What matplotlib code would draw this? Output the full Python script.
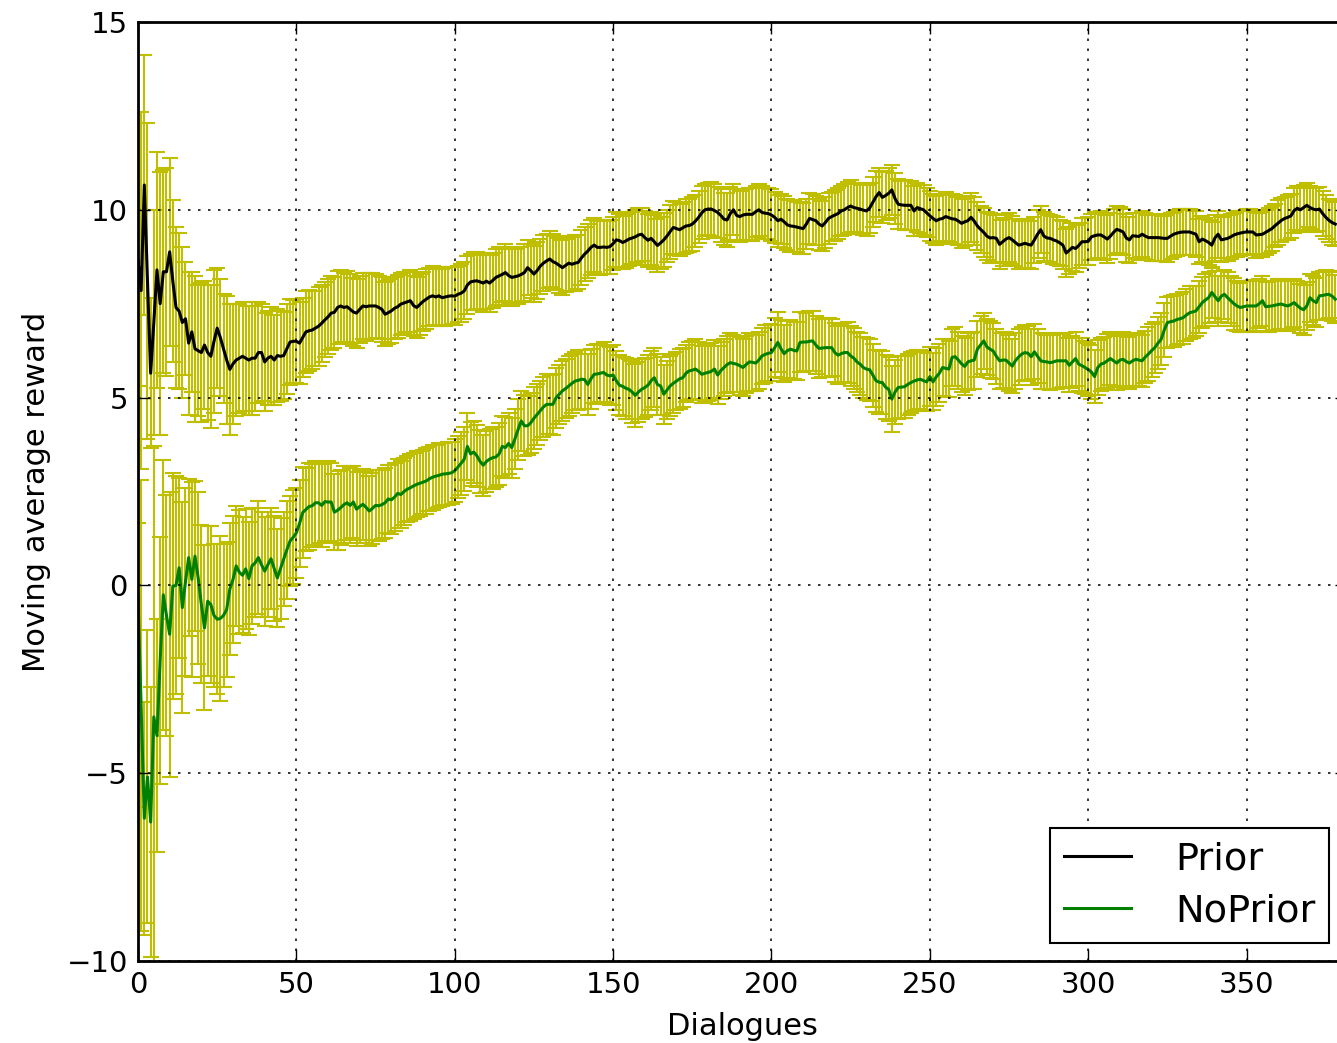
import numpy as np
import matplotlib
matplotlib.use('Agg')
from matplotlib import pyplot as plt

# moving average reward per dialogue
prior = [
    8.66, 7.85, 10.66, 8.1, 5.65, 7.0, 8.4, 7.5, 8.35, 8.35,
    8.88, 8.1, 7.4, 7.3, 7.0, 7.1, 6.45, 6.75, 6.3, 6.25,
    6.2, 6.4, 6.2, 6.1, 6.5, 6.85, 6.6, 6.3, 6.0, 5.75,
    5.9, 6.0, 6.05, 6.1, 6.05, 6.0, 6.05, 6.05, 6.2, 6.2,
    5.95, 6.05, 6.1, 6.0, 6.12, 6.1, 6.12, 6.3, 6.48, 6.5,
    6.5, 6.45, 6.6, 6.75, 6.78, 6.8, 6.85, 6.9, 6.98, 7.07,
    7.15, 7.25, 7.27, 7.4, 7.44, 7.4, 7.42, 7.35, 7.28, 7.25,
    7.35, 7.44, 7.42, 7.44, 7.44, 7.44, 7.4, 7.35, 7.22, 7.26,
    7.31, 7.38, 7.42, 7.49, 7.52, 7.55, 7.58, 7.45, 7.4, 7.48,
    7.56, 7.62, 7.68, 7.71, 7.68, 7.71, 7.66, 7.68, 7.7, 7.71,
    7.7, 7.75, 7.78, 7.84, 8.0, 8.08, 8.1, 8.11, 8.08, 8.05,
    8.1, 8.05, 8.12, 8.2, 8.24, 8.28, 8.33, 8.25, 8.2, 8.22,
    8.24, 8.28, 8.33, 8.46, 8.38, 8.29, 8.38, 8.5, 8.58, 8.64,
    8.69, 8.62, 8.58, 8.52, 8.46, 8.52, 8.58, 8.55, 8.58, 8.6,
    8.72, 8.82, 8.9, 9.0, 9.06, 9.0, 9.0, 9.01, 9.0, 9.02,
    9.1, 9.2, 9.18, 9.13, 9.17, 9.22, 9.25, 9.28, 9.33, 9.35,
    9.26, 9.19, 9.24, 9.15, 9.05, 9.12, 9.2, 9.3, 9.42, 9.53,
    9.5, 9.47, 9.52, 9.57, 9.58, 9.62, 9.7, 9.8, 9.92, 10.0,
    10.02, 10.02, 9.98, 9.93, 9.85, 9.75, 9.73, 9.9, 10.0, 9.85,
    9.82, 9.86, 9.88, 9.88, 9.88, 9.95, 10.0, 9.93, 9.91, 9.9,
    9.86, 9.8, 9.71, 9.75, 9.68, 9.6, 9.57, 9.56, 9.54, 9.52,
    9.5, 9.62, 9.77, 9.74, 9.71, 9.62, 9.57, 9.66, 9.77, 9.82,
    9.86, 9.9, 9.97, 10.0, 10.06, 10.1, 10.06, 10.04, 10.02, 9.99,
    9.97, 10.05, 10.2, 10.35, 10.46, 10.33, 10.38, 10.44, 10.53, 10.3,
    10.15, 10.13, 10.12, 10.12, 10.12, 9.97, 10.06, 10.03, 10.0, 9.92,
    9.84, 9.77, 9.71, 9.75, 9.77, 9.82, 9.79, 9.76, 9.75, 9.7,
    9.64, 9.68, 9.71, 9.8, 9.7, 9.57, 9.48, 9.4, 9.3, 9.25,
    9.26, 9.24, 9.08, 9.15, 9.22, 9.26, 9.2, 9.13, 9.06, 9.08,
    9.11, 9.08, 9.06, 9.2, 9.35, 9.47, 9.3, 9.25, 9.24, 9.2,
    9.17, 9.12, 9.06, 8.85, 8.92, 9.0, 8.97, 9.05, 9.15, 9.15,
    9.16, 9.28, 9.31, 9.33, 9.33, 9.28, 9.22, 9.3, 9.4, 9.48,
    9.45, 9.41, 9.25, 9.2, 9.31, 9.3, 9.29, 9.35, 9.3, 9.26,
    9.26, 9.26, 9.26, 9.25, 9.24, 9.24, 9.3, 9.35, 9.38, 9.4,
    9.41, 9.41, 9.41, 9.38, 9.35, 9.15, 9.22, 9.18, 9.13, 9.06,
    9.25, 9.35, 9.2, 9.22, 9.24, 9.28, 9.33, 9.36, 9.38, 9.4,
    9.41, 9.41, 9.41, 9.33, 9.34, 9.35, 9.4, 9.45, 9.5, 9.58,
    9.65, 9.72, 9.77, 9.8, 9.84, 9.98, 10.04, 10.0, 10.06, 10.12,
    10.06, 10.02, 10.0, 10.02, 9.9, 9.8, 9.72, 9.66, 9.62,
]

noprior = [
    -0.3, -3.2, -6.2, -5.1, -6.3, -3.5, -4.0, -2.0, -0.25, -0.8,
    -1.3, -0.02, 0.0, 0.47, -0.59, 0.1, 0.74, 0.16, 0.78, 0.2,
    -0.5, -1.13, -0.42, -0.51, -0.8, -0.9, -0.88, -0.8, -0.64, -0.1,
    0.16, 0.52, 0.35, 0.27, 0.44, 0.18, 0.52, 0.6, 0.74, 0.55,
    0.38, 0.55, 0.71, 0.45, 0.2, 0.45, 0.7, 0.95, 1.18, 1.28,
    1.4, 1.65, 1.94, 2.02, 2.1, 2.12, 2.2, 2.2, 2.13, 2.23,
    2.22, 2.22, 1.95, 2.0, 2.07, 2.15, 2.2, 2.13, 2.22, 2.03,
    2.1, 2.16, 2.08, 1.98, 2.05, 2.13, 2.12, 2.15, 2.2, 2.3,
    2.28, 2.35, 2.45, 2.42, 2.5, 2.56, 2.6, 2.65, 2.69, 2.72,
    2.75, 2.78, 2.84, 2.88, 2.91, 2.93, 2.96, 2.97, 2.98, 3.0,
    3.05, 3.15, 3.25, 3.36, 3.7, 3.5, 3.55, 3.45, 3.3, 3.2,
    3.3, 3.36, 3.4, 3.42, 3.5, 3.7, 3.67, 3.78, 3.67, 3.9,
    4.15, 4.38, 4.25, 4.25, 4.33, 4.45, 4.55, 4.65, 4.75, 4.82,
    4.82, 4.82, 5.0, 5.09, 5.18, 5.24, 5.31, 5.38, 5.44, 5.46,
    5.49, 5.48, 5.35, 5.5, 5.62, 5.63, 5.65, 5.67, 5.6, 5.58,
    5.6, 5.45, 5.33, 5.3, 5.25, 5.22, 5.15, 5.06, 5.15, 5.22,
    5.27, 5.33, 5.45, 5.53, 5.35, 5.31, 5.09, 5.2, 5.31, 5.38,
    5.44, 5.5, 5.53, 5.65, 5.71, 5.73, 5.76, 5.7, 5.62, 5.65,
    5.67, 5.7, 5.76, 5.6, 5.72, 5.8, 5.88, 5.93, 5.91, 5.89,
    5.85, 5.8, 5.88, 5.95, 5.94, 5.92, 6.0, 6.11, 6.15, 6.18,
    6.2, 6.33, 6.47, 6.3, 6.17, 6.25, 6.29, 6.26, 6.24, 6.47,
    6.48, 6.48, 6.5, 6.51, 6.4, 6.31, 6.32, 6.33, 6.33, 6.33,
    6.2, 6.13, 6.17, 6.2, 6.2, 6.11, 6.05, 5.95, 5.89, 5.8,
    5.76, 5.74, 5.6, 5.45, 5.41, 5.4, 5.28, 5.22, 4.96, 5.15,
    5.27, 5.28, 5.29, 5.35, 5.4, 5.44, 5.47, 5.49, 5.45, 5.42,
    5.56, 5.42, 5.55, 5.65, 5.8, 5.78, 5.76, 6.07, 6.09, 6.0,
    5.9, 5.83, 5.95, 5.98, 6.0, 6.29, 6.4, 6.51, 6.35, 6.29,
    6.24, 6.1, 5.98, 6.0, 6.0, 5.92, 5.84, 5.98, 6.08, 6.16,
    6.2, 6.18, 6.09, 6.22, 6.1, 5.98, 5.96, 5.95, 5.93, 5.95,
    5.98, 5.98, 5.98, 5.98, 5.86, 5.95, 6.04, 5.89, 5.85, 5.8,
    5.75, 5.68, 5.56, 5.8, 5.89, 5.92, 5.98, 6.04, 5.98, 5.92,
    6.0, 6.02, 5.96, 5.92, 5.98, 6.02, 6.0, 5.98, 6.08, 6.16,
    6.25, 6.33, 6.45, 6.55, 6.8, 7.0, 7.02, 7.04, 7.08, 7.1,
    7.13, 7.2, 7.26, 7.28, 7.31, 7.42, 7.53, 7.6, 7.66, 7.8,
    7.69, 7.58, 7.7, 7.75, 7.66, 7.58, 7.5, 7.44, 7.4, 7.42,
    7.44, 7.44, 7.44, 7.44, 7.5, 7.58, 7.42, 7.43, 7.44, 7.46,
    7.48, 7.49, 7.46, 7.44, 7.48, 7.53, 7.45, 7.38, 7.34, 7.44,
    7.66, 7.58, 7.53, 7.71, 7.72, 7.74, 7.75, 7.7, 7.62,
]

# half-length of the error bars
prior_err = [
    7.0, 4.75, 3.45, 4.2, 2.0, 3.0, 3.15, 3.5, 2.7, 2.77,
    2.5, 2.16, 2.15, 2.08, 2.0, 1.5, 1.9, 1.6, 1.95, 1.75,
    1.85, 1.7, 1.8, 1.9, 1.9, 1.6, 1.55, 1.45, 1.7, 1.75,
    1.6, 1.5, 1.45, 1.45, 1.4, 1.45, 1.5, 1.4, 1.35, 1.3,
    1.3, 1.25, 1.3, 1.2, 1.25, 1.2, 1.15, 1.2, 1.15, 1.1,
    1.12, 1.1, 1.05, 1.1, 1.08, 1.05, 1.0, 1.05, 1.02, 1.0,
    1.0, 0.98, 0.95, 0.98, 0.95, 0.92, 0.95, 0.93, 0.9, 0.92,
    0.9, 0.88, 0.9, 0.87, 0.88, 0.86, 0.85, 0.87, 0.85, 0.84,
    0.85, 0.83, 0.84, 0.82, 0.83, 0.8, 0.82, 0.8, 0.81, 0.8,
    0.79, 0.8, 0.78, 0.79, 0.77, 0.78, 0.76, 0.78, 0.77, 0.76,
    0.77, 0.75, 0.77, 0.76, 0.78, 0.75, 0.77, 0.76, 0.74, 0.76,
    0.75, 0.76, 0.74, 0.75, 0.77, 0.74, 0.75, 0.73, 0.75, 0.74,
    0.76, 0.73, 0.75, 0.74, 0.72, 0.74, 0.75, 0.73, 0.74, 0.72,
    0.74, 0.73, 0.72, 0.74, 0.73, 0.71, 0.73, 0.72, 0.74, 0.72,
    0.73, 0.71, 0.72, 0.74, 0.72, 0.71, 0.73, 0.72, 0.7, 0.72,
    0.71, 0.73, 0.72, 0.7, 0.71, 0.72, 0.7, 0.72, 0.71, 0.7,
    0.72, 0.71, 0.7, 0.72, 0.71, 0.69, 0.71, 0.7, 0.72, 0.7,
    0.71, 0.69, 0.7, 0.71, 0.7, 0.72, 0.7, 0.69, 0.71, 0.7,
    0.69, 0.71, 0.7, 0.68, 0.7, 0.69, 0.71, 0.7, 0.68, 0.7,
    0.69, 0.7, 0.68, 0.69, 0.7, 0.68, 0.69, 0.7, 0.68, 0.69,
    0.7, 0.68, 0.69, 0.67, 0.69, 0.68, 0.7, 0.68, 0.67, 0.69,
    0.68, 0.67, 0.69, 0.68, 0.66, 0.68, 0.67, 0.69, 0.68, 0.66,
    0.68, 0.67, 0.66, 0.68, 0.67, 0.69, 0.66, 0.68, 0.67, 0.66,
    0.68, 0.66, 0.67, 0.68, 0.66, 0.67, 0.65, 0.67, 0.66, 0.68,
    0.66, 0.65, 0.67, 0.66, 0.65, 0.67, 0.66, 0.64, 0.66, 0.65,
    0.67, 0.65, 0.66, 0.64, 0.66, 0.65, 0.64, 0.66, 0.65, 0.64,
    0.66, 0.64, 0.65, 0.66, 0.64, 0.65, 0.63, 0.65, 0.64, 0.66,
    0.64, 0.63, 0.65, 0.64, 0.63, 0.65, 0.64, 0.62, 0.64, 0.63,
    0.65, 0.63, 0.64, 0.62, 0.64, 0.63, 0.65, 0.63, 0.62, 0.64,
    0.63, 0.62, 0.64, 0.63, 0.62, 0.64, 0.63, 0.61, 0.63, 0.62,
    0.64, 0.62, 0.63, 0.61, 0.63, 0.62, 0.64, 0.62, 0.61, 0.63,
    0.62, 0.61, 0.63, 0.62, 0.6, 0.62, 0.63, 0.61, 0.62, 0.6,
    0.62, 0.61, 0.63, 0.61, 0.6, 0.62, 0.61, 0.6, 0.62, 0.61,
    0.6, 0.62, 0.61, 0.59, 0.61, 0.6, 0.62, 0.6, 0.59, 0.61,
    0.6, 0.62, 0.6, 0.59, 0.61, 0.6, 0.59, 0.61, 0.6, 0.58,
    0.6, 0.61, 0.59, 0.6, 0.58, 0.6, 0.59, 0.61, 0.59, 0.58,
    0.6, 0.59, 0.58, 0.6, 0.59, 0.61, 0.59, 0.58, 0.6, 0.59,
    0.58, 0.6, 0.59, 0.58, 0.6, 0.59, 0.58, 0.6, 0.59,
]

noprior_err = [
    5.6, 6.0, 3.1, 3.9, 3.6, 7.2, 3.1, 3.3, 3.6, 3.2,
    3.8, 3.0, 2.9, 2.4, 2.8, 2.5, 2.1, 2.6, 2.0, 2.3,
    2.1, 2.2, 2.0, 2.1, 1.9, 2.0, 2.2, 1.9, 1.8, 1.75,
    1.7, 1.6, 1.65, 1.55, 1.6, 1.5, 1.55, 1.45, 1.5, 1.4,
    1.45, 1.4, 1.35, 1.4, 1.3, 1.35, 1.25, 1.3, 1.2, 1.25,
    1.2, 1.15, 1.2, 1.1, 1.15, 1.1, 1.12, 1.08, 1.1, 1.05,
    1.08, 1.05, 1.02, 1.05, 1.0, 1.02, 0.98, 1.0, 0.97, 0.98,
    0.97, 0.95, 0.96, 0.94, 0.95, 0.93, 0.94, 0.92, 0.93, 0.91,
    0.92, 0.9, 0.91, 0.89, 0.9, 0.88, 0.89, 0.87, 0.88, 0.87,
    0.86, 0.87, 0.85, 0.86, 0.84, 0.85, 0.84, 0.83, 0.84, 0.82,
    0.84, 0.82, 0.83, 0.85, 0.9, 0.84, 0.83, 0.82, 0.84, 0.81,
    0.82, 0.8, 0.82, 0.81, 0.83, 0.8, 0.81, 0.82, 0.8, 0.81,
    0.82, 0.8, 0.81, 0.79, 0.8, 0.82, 0.8, 0.79, 0.81, 0.8,
    0.79, 0.81, 0.8, 0.78, 0.8, 0.79, 0.81, 0.79, 0.78, 0.8,
    0.79, 0.78, 0.8, 0.79, 0.77, 0.79, 0.78, 0.8, 0.78, 0.77,
    0.79, 0.78, 0.8, 0.79, 0.81, 0.8, 0.82, 0.83, 0.81, 0.8,
    0.79, 0.8, 0.78, 0.79, 0.8, 0.78, 0.79, 0.77, 0.79, 0.78,
    0.77, 0.79, 0.78, 0.76, 0.78, 0.77, 0.79, 0.77, 0.76, 0.78,
    0.77, 0.76, 0.78, 0.77, 0.75, 0.77, 0.76, 0.78, 0.76, 0.75,
    0.77, 0.76, 0.75, 0.77, 0.76, 0.74, 0.76, 0.75, 0.77, 0.75,
    0.76, 0.78, 0.8, 0.77, 0.76, 0.78, 0.77, 0.76, 0.78, 0.8,
    0.79, 0.78, 0.8, 0.79, 0.77, 0.78, 0.77, 0.79, 0.78, 0.76,
    0.78, 0.77, 0.79, 0.78, 0.8, 0.79, 0.81, 0.8, 0.82, 0.81,
    0.83, 0.82, 0.84, 0.83, 0.85, 0.84, 0.86, 0.85, 0.87, 0.85,
    0.84, 0.83, 0.82, 0.8, 0.81, 0.79, 0.8, 0.78, 0.79, 0.77,
    0.78, 0.76, 0.77, 0.78, 0.76, 0.77, 0.75, 0.76, 0.78, 0.76,
    0.75, 0.77, 0.76, 0.74, 0.76, 0.75, 0.77, 0.75, 0.74, 0.76,
    0.75, 0.73, 0.75, 0.74, 0.76, 0.74, 0.73, 0.75, 0.74, 0.72,
    0.74, 0.73, 0.75, 0.73, 0.72, 0.74, 0.73, 0.71, 0.73, 0.72,
    0.74, 0.72, 0.71, 0.73, 0.72, 0.7, 0.72, 0.71, 0.73, 0.71,
    0.7, 0.72, 0.71, 0.73, 0.71, 0.7, 0.72, 0.71, 0.69, 0.71,
    0.7, 0.72, 0.7, 0.69, 0.71, 0.7, 0.68, 0.7, 0.69, 0.71,
    0.7, 0.68, 0.7, 0.69, 0.71, 0.69, 0.68, 0.7, 0.69, 0.67,
    0.69, 0.68, 0.7, 0.68, 0.67, 0.69, 0.68, 0.7, 0.68, 0.67,
    0.69, 0.67, 0.68, 0.66, 0.68, 0.67, 0.69, 0.67, 0.66, 0.68,
    0.67, 0.66, 0.68, 0.67, 0.65, 0.67, 0.66, 0.68, 0.66, 0.65,
    0.67, 0.66, 0.65, 0.67, 0.66, 0.64, 0.66, 0.65, 0.67, 0.65,
    0.64, 0.66, 0.65, 0.64, 0.66, 0.65, 0.63, 0.65, 0.64,
]

dialogues = np.arange(len(prior))

yellow = '#bfbf00'
green = (0.0, 0.5, 0.0)

plt.rcParams['lines.scale_dashes'] = False
fig = plt.figure(figsize=(13.37, 10.43), dpi=100)
ax = fig.add_axes([0.1032, 0.0786, 0.9043, 0.9003])

ax.errorbar(dialogues, prior, yerr=prior_err, fmt='none', ecolor=yellow,
            elinewidth=1.5, capsize=5.5, capthick=1.5)
ax.errorbar(dialogues, noprior, yerr=noprior_err, fmt='none', ecolor=yellow,
            elinewidth=1.5, capsize=5.5, capthick=1.5)
ax.plot(dialogues, prior, color='k', lw=2.2, label='Prior')
ax.plot(dialogues, noprior, color=green, lw=2.2, label='NoPrior')

ax.set_xlim(0, 381.7)
ax.set_ylim(-10, 15)
ax.set_xticks(range(0, 351, 50))
ax.set_yticks(range(-10, 16, 5))

ax.set_axisbelow(False)
ax.grid(True, color='k', linestyle=(0, (1.8, 5.4)), linewidth=1.1)
ax.tick_params(direction='in', length=8.4, width=1, top=True, right=True,
               labelsize=21, pad=7.3)
for s in ax.spines.values():
    s.set_linewidth(2)

ax.set_xlabel('Dialogues', fontsize=22, labelpad=9)
ax.set_ylabel('Moving average reward', fontsize=22, labelpad=11)

leg = ax.legend(loc='lower right', fontsize=27.5, fancybox=False, framealpha=1,
                edgecolor='k', borderpad=0.36, labelspacing=0.42,
                handlelength=1.75, handletextpad=1.15, borderaxespad=0.47)
leg.get_frame().set_linewidth(1.5)

fig.savefig('out.png', dpi=100)
